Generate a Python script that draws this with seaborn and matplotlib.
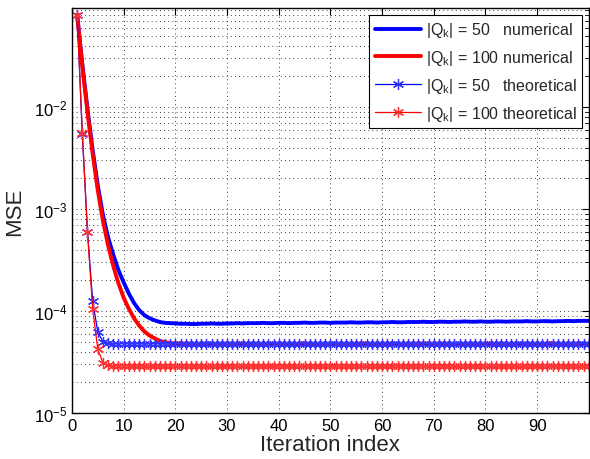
import numpy as np
import pandas as pd
import seaborn as sns
import matplotlib
matplotlib.use("Agg")
import matplotlib.pyplot as plt
from matplotlib.ticker import LogLocator, NullFormatter

# MSE values, in units of 1e-5
iterations = list(range(1, 101))

num_50 = [8000, 2630, 955, 380, 170, 87, 52.5, 35.5, 25.1, 19.1,
          14.8, 12.0, 10.2, 9.1, 8.5, 8.1, 7.8, 7.65, 7.6, 7.55,
          7.5, 7.5, 7.45, 7.45, 7.5, 7.5, 7.55, 7.5, 7.5, 7.55,
          7.55, 7.6, 7.55, 7.6, 7.6, 7.6, 7.65, 7.6, 7.6, 7.65,
          7.65, 7.6, 7.65, 7.65, 7.7, 7.65, 7.65, 7.7, 7.7, 7.65,
          7.7, 7.7, 7.7, 7.75, 7.7, 7.7, 7.75, 7.75, 7.7, 7.75,
          7.75, 7.8, 7.75, 7.75, 7.8, 7.8, 7.8, 7.85, 7.8, 7.8,
          7.85, 7.85, 7.8, 7.85, 7.85, 7.9, 7.85, 7.85, 7.9, 7.85,
          7.85, 7.9, 7.9, 7.85, 7.9, 7.9, 7.9, 7.95, 7.9, 7.9,
          7.95, 7.95, 7.9, 7.95, 7.95, 8.0, 7.95, 8.0, 8.0, 8.0]

num_100 = [8000, 2510, 891, 347, 151, 75.9, 43.7, 27.5, 18.6, 13.5,
           10.5, 8.5, 7.2, 6.3, 5.75, 5.4, 5.1, 4.95, 4.85, 4.8,
           4.8, 4.78, 4.8, 4.77, 4.78, 4.8, 4.78, 4.77, 4.78, 4.8,
           4.78, 4.77, 4.78, 4.78, 4.8, 4.78, 4.77, 4.78, 4.78, 4.8,
           4.78, 4.78, 4.77, 4.78, 4.8, 4.78, 4.78, 4.77, 4.78, 4.78,
           4.8, 4.78, 4.77, 4.78, 4.78, 4.8, 4.78, 4.78, 4.77, 4.78,
           4.78, 4.8, 4.78, 4.77, 4.78, 4.78, 4.8, 4.78, 4.78, 4.77,
           4.78, 4.8, 4.78, 4.77, 4.78, 4.78, 4.8, 4.78, 4.78, 4.77,
           4.78, 4.78, 4.8, 4.78, 4.77, 4.78, 4.78, 4.8, 4.78, 4.77,
           4.78, 4.78, 4.8, 4.78, 4.77, 4.78, 4.78, 4.8, 4.78, 4.78]

theo_50 = [8000, 540, 60, 12.5, 6.2, 5.0, 4.85, 4.8, 4.75, 4.8,
           4.78, 4.75, 4.8, 4.77, 4.75, 4.8, 4.78, 4.76, 4.8, 4.77,
           4.75, 4.8, 4.78, 4.76, 4.8, 4.77, 4.75, 4.8, 4.78, 4.76,
           4.8, 4.77, 4.75, 4.8, 4.78, 4.76, 4.8, 4.77, 4.75, 4.8,
           4.78, 4.76, 4.8, 4.77, 4.75, 4.8, 4.78, 4.76, 4.8, 4.77,
           4.75, 4.8, 4.78, 4.76, 4.8, 4.77, 4.75, 4.8, 4.78, 4.76,
           4.8, 4.77, 4.75, 4.8, 4.78, 4.76, 4.8, 4.77, 4.75, 4.8,
           4.78, 4.76, 4.8, 4.77, 4.75, 4.8, 4.78, 4.76, 4.8, 4.77,
           4.75, 4.8, 4.78, 4.76, 4.8, 4.77, 4.75, 4.8, 4.78, 4.76,
           4.8, 4.77, 4.75, 4.8, 4.78, 4.76, 4.8, 4.77, 4.75, 4.8]

theo_100 = [8000, 560, 60, 10.5, 4.2, 3.1, 2.95, 2.9, 2.88, 2.9,
            2.89, 2.88, 2.9, 2.89, 2.88, 2.9, 2.89, 2.88, 2.9, 2.89,
            2.88, 2.9, 2.89, 2.88, 2.9, 2.89, 2.88, 2.9, 2.89, 2.88,
            2.9, 2.89, 2.88, 2.9, 2.89, 2.88, 2.9, 2.89, 2.88, 2.9,
            2.89, 2.88, 2.9, 2.89, 2.88, 2.9, 2.89, 2.88, 2.9, 2.89,
            2.88, 2.9, 2.89, 2.88, 2.9, 2.89, 2.88, 2.9, 2.89, 2.88,
            2.9, 2.89, 2.88, 2.9, 2.89, 2.88, 2.9, 2.89, 2.88, 2.9,
            2.89, 2.88, 2.9, 2.89, 2.88, 2.9, 2.89, 2.88, 2.9, 2.89,
            2.88, 2.9, 2.89, 2.88, 2.9, 2.89, 2.88, 2.9, 2.89, 2.88,
            2.9, 2.89, 2.88, 2.9, 2.89, 2.88, 2.9, 2.89, 2.88, 2.9]

labels = [r"$|\mathrm{Q}_{\mathrm{k}}|$ = 50   numerical",
          r"$|\mathrm{Q}_{\mathrm{k}}|$ = 100 numerical",
          r"$|\mathrm{Q}_{\mathrm{k}}|$ = 50   theoretical",
          r"$|\mathrm{Q}_{\mathrm{k}}|$ = 100 theoretical"]

sns.set_theme(style="white")
plt.rcParams["font.family"] = ["Liberation Sans", "DejaVu Sans"]
plt.rcParams["mathtext.fontset"] = "custom"
plt.rcParams["mathtext.rm"] = "Liberation Sans"
plt.rcParams["mathtext.it"] = "Liberation Sans:italic"
plt.rcParams["mathtext.bf"] = "Liberation Sans:bold"

fig = plt.figure(figsize=(5.9, 4.6), dpi=100)
ax = fig.add_axes([0.122, 0.1, 0.876, 0.88])

asterisk = (6, 2, 0)
x = np.array(iterations)
sns.lineplot(x=x, y=np.array(num_50) * 1e-5, ax=ax, color="#0000ff", linewidth=2.8, label=labels[0])
sns.lineplot(x=x, y=np.array(num_100) * 1e-5, ax=ax, color="#ff0000", linewidth=2.8, label=labels[1])
sns.lineplot(x=x, y=np.array(theo_50) * 1e-5, ax=ax, color="#0000ff", linewidth=0.9,
             marker=asterisk, markersize=8, markeredgewidth=0.9, markeredgecolor="#3333ff", label=labels[2])
sns.lineplot(x=x, y=np.array(theo_100) * 1e-5, ax=ax, color="#ff0000", linewidth=0.9,
             marker=asterisk, markersize=8, markeredgewidth=0.9, markeredgecolor="#ff3333", label=labels[3])

ax.set_yscale("log")
ax.set_xlim(0, 100)
ax.set_ylim(1e-5, 0.093)
ax.set_xticks(range(0, 100, 10))
ax.yaxis.set_major_locator(LogLocator(base=10, numticks=10))
ax.yaxis.set_minor_locator(LogLocator(base=10, subs=np.arange(2, 10), numticks=20))
ax.yaxis.set_minor_formatter(NullFormatter())

ax.grid(True, which="major", axis="both", color="black", linestyle=(0, (1, 4)), linewidth=0.6)
ax.grid(True, which="minor", axis="y", color="black", linestyle=(0, (1, 4)), linewidth=0.6)

ax.tick_params(which="both", direction="in", top=True, right=True, labelsize=12, colors="black")
ax.tick_params(which="major", length=5, width=0.8)
ax.tick_params(which="minor", length=3, width=0.6)
for s in ax.spines.values():
    s.set_color("black")
    s.set_linewidth(1.0)

ax.set_xlabel("Iteration index", fontsize=16, labelpad=1)
ax.set_ylabel("MSE", fontsize=16, labelpad=6)

leg = ax.legend(loc="upper right", fontsize=11.5, frameon=True, fancybox=False,
                edgecolor="black", framealpha=1, handlelength=2.9, borderaxespad=0.4,
                labelspacing=0.55, handletextpad=0.3, borderpad=0.35)
leg.get_frame().set_linewidth(0.8)

fig.savefig("out.png", dpi=100)
